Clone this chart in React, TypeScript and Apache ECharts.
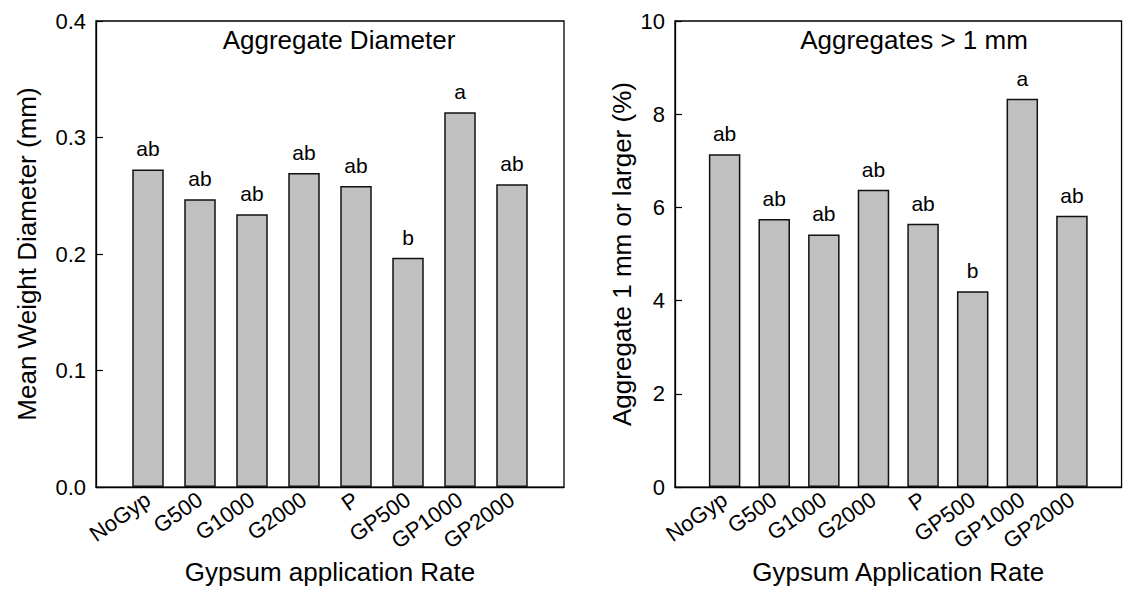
import React, { useEffect, useRef } from "react";
import * as echarts from "echarts";

const categories = ["NoGyp", "G500", "G1000", "G2000", "P", "GP500", "GP1000", "GP2000"];
const diameterValues = [0.2726, 0.247, 0.2342, 0.2695, 0.2584, 0.1968, 0.3216, 0.2598];
const diameterLetters = ["ab", "ab", "ab", "ab", "ab", "b", "a", "ab"];
const largeAggValues = [7.14, 5.75, 5.42, 6.38, 5.65, 4.2, 8.33, 5.82];
const largeAggLetters = ["ab", "ab", "ab", "ab", "ab", "b", "a", "ab"];
const diameterTicks = { min: 0, max: 0.4, interval: 0.1 };
const largeAggTicks = { min: 0, max: 10, interval: 2 };

const FONT = "'Liberation Sans', Arial, sans-serif";

export default function App() {
  const ref = useRef<HTMLDivElement>(null);
  useEffect(() => {
    if (!ref.current) return;
    const chart = echarts.init(ref.current, null, { renderer: "svg" });
    const paddedCats = ["", ...categories, ""];
    const mkData = (vals: number[], letters: string[]) => [
      "-",
      ...vals.map((v, i) => ({ value: v, label: { formatter: letters[i] } })),
      "-",
    ];
    const xAxisBase = (gridIndex: number, name: string) => ({
      type: "category",
      gridIndex,
      data: paddedCats,
      boundaryGap: false,
      name,
      nameLocation: "middle",
      nameGap: 66,
      nameTextStyle: { fontSize: 26, color: "#000", fontFamily: FONT },
      axisTick: { show: false },
      axisLine: { show: true, lineStyle: { color: "#000", width: 1.3 } },
      axisLabel: {
        interval: 0,
        rotate: 35,
        margin: 10,
        fontSize: 22,
        color: "#000",
        fontFamily: FONT,
      },
      splitLine: { show: false },
    });
    const yAxisBase = (gridIndex: number, name: string, t: any, gap: number, dec: number) => ({
      type: "value",
      gridIndex,
      min: t.min,
      max: t.max,
      interval: t.interval,
      name,
      nameLocation: "middle",
      nameGap: gap,
      nameTextStyle: { fontSize: 26, color: "#000", fontFamily: FONT },
      axisLine: { show: true, lineStyle: { color: "#000", width: 1.3 } },
      axisTick: { show: true, inside: true, length: 7, lineStyle: { color: "#000", width: 1.2 } },
      axisLabel: {
        fontSize: 22,
        color: "#000",
        fontFamily: FONT,
        margin: 10,
        formatter: (v: number) => v.toFixed(dec),
      },
      splitLine: { show: false },
    });
    const barSeries = (idx: number, vals: number[], letters: string[]) => ({
      type: "bar",
      xAxisIndex: idx,
      yAxisIndex: idx,
      data: mkData(vals, letters),
      barWidth: 31.5,
      itemStyle: { color: "#c0c0c0", borderColor: "#111", borderWidth: 1.5 },
      label: {
        show: true,
        position: "top",
        distance: 10,
        fontSize: 21,
        color: "#000",
        fontFamily: FONT,
      },
    });
    chart.setOption({
      animation: false,
      backgroundColor: "#fff",
      textStyle: { fontFamily: FONT },
      title: [
        {
          text: "Aggregate Diameter",
          left: 339,
          top: 27,
          textAlign: "center",
          padding: 0,
          textStyle: { fontSize: 26, fontWeight: "normal", color: "#000", fontFamily: FONT },
        },
        {
          text: "Aggregates > 1 mm",
          left: 914,
          top: 27,
          textAlign: "center",
          padding: 0,
          textStyle: { fontSize: 26, fontWeight: "normal", color: "#000", fontFamily: FONT },
        },
      ],
      grid: [
        { left: 96, top: 21, width: 468, height: 468, show: true, borderColor: "#000", borderWidth: 1.3, backgroundColor: "transparent" },
        { left: 675, top: 21, width: 462, height: 468, show: true, borderColor: "#000", borderWidth: 1.3, backgroundColor: "transparent" },
      ],
      xAxis: [
        xAxisBase(0, "Gypsum application Rate"),
        xAxisBase(1, "Gypsum Application Rate"),
      ],
      yAxis: [
        yAxisBase(0, "Mean Weight Diameter (mm)", diameterTicks, 56, 1),
        yAxisBase(1, "Aggregate 1 mm or larger (%)", largeAggTicks, 40, 0),
      ],
      series: [
        barSeries(0, diameterValues, diameterLetters),
        barSeries(1, largeAggValues, largeAggLetters),
      ],
    });
    return () => chart.dispose();
  }, []);
  return (
    <div
      ref={ref}
      style={{ position: "fixed", left: 0, top: 0, width: 1124, height: 590 }}
    />
  );
}
